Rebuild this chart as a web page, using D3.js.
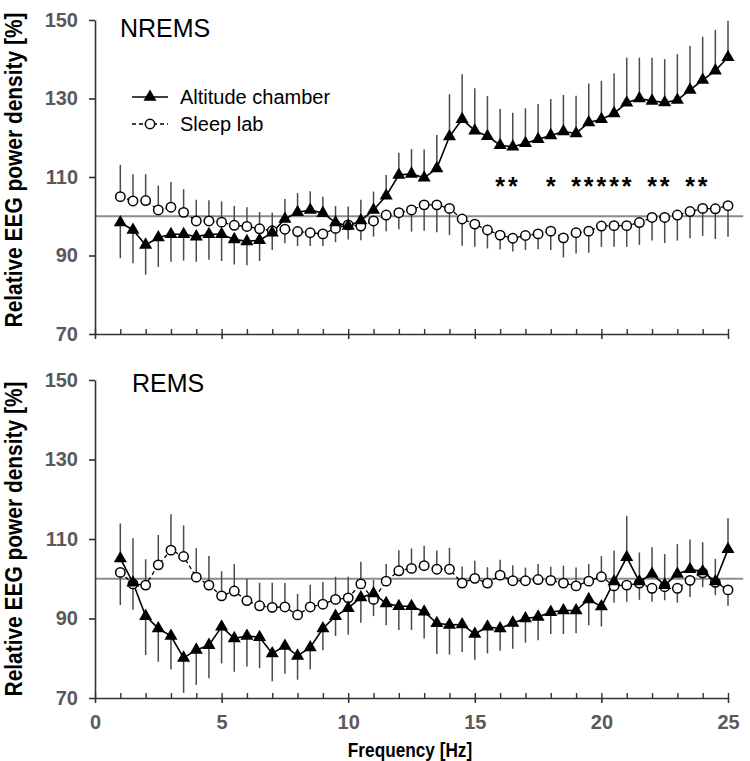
<!DOCTYPE html>
<html><head><meta charset="utf-8">
<script src="https://cdn.jsdelivr.net/npm/d3@7"></script>
<style>body{margin:0;background:#fff}svg{display:block}</style></head>
<body><svg id="c" width="750" height="761"></svg>
<script>
const freqs = [1,1.5,2,2.5,3,3.5,4,4.5,5,5.5,6,6.5,7,7.5,8,8.5,9,9.5,10,10.5,11,11.5,12,12.5,13,13.5,14,14.5,15,15.5,16,16.5,17,17.5,18,18.5,19,19.5,20,20.5,21,21.5,22,22.5,23,23.5,24,24.5,25];

const nremsAltitude = [98.4,96.5,92.7,94.6,95.4,95.4,94.8,95.4,95.4,94.1,93.6,93.9,95.8,99.3,101.0,101.6,100.8,98.4,97.5,98.9,101.6,105.2,110.5,110.8,109.8,112.2,120.3,124.7,121.8,120.4,118.1,117.7,118.6,119.6,120.6,121.6,121.1,123.9,124.7,126.2,128.9,130.0,129.4,129.0,129.6,132.2,134.7,137.1,140.5];
const nremsAltitudeSD = [9.1,8.5,7.6,7.5,7.0,6.7,6.4,6.5,6.8,6.4,6.1,5.3,4.4,5.1,4.9,4.8,4.2,4.2,3.4,5.3,4.7,5.3,5.7,6.3,7.2,8.5,10.8,11.5,10.8,10.2,9.2,8.7,8.9,9.0,9.3,9.3,9.6,9.9,9.8,10.2,11.5,10.4,11.0,11.0,11.7,11.2,11.0,10.4,9.3];
const nremsSleep = [105.0,103.9,104.0,101.6,102.3,101.0,98.8,98.8,98.5,97.7,97.4,96.8,96.3,96.7,96.1,95.8,95.5,96.9,97.8,97.5,98.8,100.3,100.9,101.6,102.9,102.9,102.0,99.3,98.0,96.5,95.2,94.4,95.1,95.5,96.2,94.5,95.8,96.2,97.5,97.6,97.6,98.4,99.7,99.7,100.3,101.2,102.0,101.9,102.7];
const nremsSleepSD = [8.1,6.8,6.7,6.2,6.4,5.9,5.4,5.3,5.3,4.9,4.9,4.3,4.6,3.6,3.7,3.4,3.1,3.5,4.7,3.6,4.0,4.1,4.2,5.5,6.6,7.0,6.8,6.8,5.8,4.7,3.7,3.4,3.7,3.9,4.8,5.0,5.3,5.5,5.3,5.4,5.4,5.7,5.9,6.5,6.5,6.8,7.0,7.7,7.9];

const remsAltitude = [105.1,99.0,90.6,87.5,85.6,80.1,82.1,83.3,87.9,85.0,85.6,85.3,81.2,83.1,80.6,82.7,87.5,90.6,92.6,95.3,96.3,93.8,93.1,93.1,91.7,88.8,88.4,88.5,86.1,87.9,87.5,88.9,90.0,90.4,91.6,92.0,92.0,94.8,93.0,99.3,105.4,99.3,101.2,98.4,101.2,102.4,101.8,99.3,107.4];
const remsAltitudeSD = [8.8,11.2,9.8,8.4,8.4,8.8,8.8,8.3,9.2,8.4,7.7,7.8,7.0,7.0,6.0,5.5,5.5,5.0,6.7,6.4,3.4,5.5,6.0,6.0,6.7,7.7,7.5,6.9,6.5,6.7,5.6,6.5,6.1,5.9,5.5,5.9,5.7,6.5,5.0,7.8,10.4,7.3,6.7,7.8,7.5,7.5,7.4,5.7,7.8];
const remsSleep = [101.6,98.7,98.4,103.5,107.2,105.6,100.4,98.4,95.7,96.9,94.5,93.2,92.8,92.9,90.9,92.9,93.6,94.8,95.2,98.7,94.8,99.4,102.0,102.6,103.3,102.4,102.4,98.9,100.1,98.9,100.9,99.5,99.5,99.8,99.6,98.9,98.2,99.4,100.5,98.2,98.4,98.9,97.6,98.0,97.6,99.6,101.5,99.1,97.2];
const remsSleepSD = [8.2,6.5,6.5,7.5,9.0,7.8,7.3,7.3,6.2,6.8,5.5,5.8,6.2,6.0,5.3,5.6,5.6,5.7,5.3,5.6,4.2,4.3,5.2,5.0,5.0,4.7,5.4,4.2,4.4,4.0,3.9,3.9,3.3,3.9,3.4,4.4,4.6,4.3,5.2,4.2,4.2,4.2,3.4,3.4,3.6,4.2,3.6,3.2,4.0];

const nremsStars = [16,16.5,18,19,19.5,20,20.5,21,22,22.5,23.5,24];
const starLevel = 109;
const refLevel = 100;
const yTicks = [70,90,110,130,150];
const xTicks = [0,5,10,15,20,25];
const xMinorTicks = [0,1,2,3,4,5,6,7,8,9,10,11,12,13,14,15,16,17,18,19,20,21,22,23,24,25];
const seriesNames = ["Altitude chamber","Sleep lab"];
const panelTitles = ["NREMS","REMS"];

const svg = d3.select("#c");
const x = d3.scaleLinear().domain([0,25]).range([95,728]);
const triSym = d3.symbol().type(d3.symbolTriangle).size(74);
const AXIS = "#333";
const TICKTXT = "#595959";
const FONT = "'Liberation Sans',Arial,sans-serif";

function drawPanel(cfg){
  const y = d3.scaleLinear().domain([70,150]).range(cfg.range);
  const g = svg.append("g");
  const alt = freqs.map((f,i)=>({f, v:cfg.alt[i], sd:cfg.altSD[i], up: cfg.alt[i] >= cfg.sleep[i]}));
  const sl = freqs.map((f,i)=>({f, v:cfg.sleep[i], sd:cfg.sleepSD[i], up: cfg.sleep[i] > cfg.alt[i]}));

  g.append("line").attr("x1", x(0)).attr("x2", x(25.6))
    .attr("y1", y(refLevel)).attr("y2", y(refLevel))
    .attr("stroke","#8c8c8c").attr("stroke-width",2);

  const eb = g.append("g").attr("stroke","#4a4a4a").attr("stroke-width",1.5);
  eb.selectAll("line.a").data(alt).join("line").attr("class","a")
    .attr("x1",d=>x(d.f)).attr("x2",d=>x(d.f))
    .attr("y1",d=>y(d.v)).attr("y2",d=>y(d.up ? d.v+d.sd : d.v-d.sd));
  eb.selectAll("line.s").data(sl).join("line").attr("class","s")
    .attr("x1",d=>x(d.f)).attr("x2",d=>x(d.f))
    .attr("y1",d=>y(d.v)).attr("y2",d=>y(d.up ? d.v+d.sd : d.v-d.sd));

  const line = d3.line().x(d=>x(d.f)).y(d=>y(d.v));
  g.append("path").datum(sl).attr("d",line).attr("fill","none")
    .attr("stroke","#000").attr("stroke-width",1.3).attr("stroke-dasharray","4,3");
  g.append("path").datum(alt).attr("d",line).attr("fill","none")
    .attr("stroke","#000").attr("stroke-width",1.6);

  g.selectAll("circle.s").data(sl).join("circle").attr("class","s")
    .attr("cx",d=>x(d.f)).attr("cy",d=>y(d.v)).attr("r",4.7)
    .attr("fill","#fff").attr("stroke","#000").attr("stroke-width",1.5);
  g.selectAll("path.t").data(alt).join("path").attr("class","t")
    .attr("transform",d=>`translate(${x(d.f)},${y(d.v)})`)
    .attr("d",triSym).attr("fill","#000");

  const ya = g.append("g").attr("transform",`translate(${x(0)},0)`)
    .call(d3.axisLeft(y).tickValues(yTicks).tickSize(6).tickSizeOuter(0).tickPadding(11));
  ya.select(".domain").attr("stroke",AXIS).attr("stroke-width",1.6);
  ya.selectAll(".tick line").attr("stroke",AXIS).attr("stroke-width",1.6);
  ya.selectAll("text").attr("fill",TICKTXT).attr("font-family",FONT)
    .attr("font-weight","bold").attr("font-size","20px");

  const xb = g.append("g").attr("transform",`translate(0,${y(70)})`)
    .call(d3.axisBottom(x).tickValues(xTicks).tickSize(5).tickSizeOuter(0).tickPadding(12)
      .tickFormat(cfg.labels ? d3.format("d") : ()=>""));
  xb.select(".domain").attr("stroke",AXIS).attr("stroke-width",1.6);
  xb.selectAll(".tick line").attr("stroke",AXIS).attr("stroke-width",1.6);
  xb.selectAll("text").attr("fill",TICKTXT).attr("font-family",FONT)
    .attr("font-weight","bold").attr("font-size","20px");
  const xt = g.append("g").attr("transform",`translate(0,${y(70)})`)
    .call(d3.axisTop(x).tickValues(xMinorTicks).tickSize(5).tickSizeOuter(0).tickFormat(()=>""));
  xt.select(".domain").remove();
  xt.selectAll(".tick line").attr("stroke",AXIS).attr("stroke-width",1.4);

  g.append("text").attr("x",cfg.titleX).attr("y",cfg.titleY).text(cfg.title)
    .attr("font-family",FONT).attr("font-size","25px").attr("fill","#000");

  g.append("text").attr("transform",`translate(22,${cfg.ytitleY}) rotate(-90) scale(0.91,1)`)
    .attr("text-anchor","middle").text("Relative EEG power density [%]")
    .attr("font-family",FONT).attr("font-weight","bold")
    .attr("font-size","23px").attr("fill","#000");

  if (cfg.stars){
    g.selectAll("text.star").data(cfg.stars).join("text").attr("class","star")
      .attr("x",d=>x(d)).attr("y",y(starLevel)).attr("dy","0.57em").attr("text-anchor","middle")
      .text("*").attr("font-family",FONT)
      .attr("font-weight","bold").attr("font-size","25px");
  }
  return y;
}

drawPanel({range:[334,20], alt:nremsAltitude, altSD:nremsAltitudeSD, sleep:nremsSleep, sleepSD:nremsSleepSD,
  title:panelTitles[0], titleX:120, titleY:37, ytitleY:170, labels:false, stars:nremsStars});
drawPanel({range:[698,380], alt:remsAltitude, altSD:remsAltitudeSD, sleep:remsSleep, sleepSD:remsSleepSD,
  title:panelTitles[1], titleX:132, titleY:392, ytitleY:539, labels:true});

svg.append("text").attr("transform","translate(410,757) scale(0.82,1)").attr("text-anchor","middle")
  .text("Frequency [Hz]").attr("font-family",FONT)
  .attr("font-weight","bold").attr("font-size","21px");

const lg = svg.append("g").attr("font-family",FONT).attr("font-size","20px");
lg.append("line").attr("x1",132).attr("x2",168).attr("y1",97).attr("y2",97).attr("stroke","#000").attr("stroke-width",1.6);
lg.append("path").attr("transform","translate(150,97)").attr("d",triSym).attr("fill","#000");
lg.append("text").attr("x",180).attr("y",104).text(seriesNames[0]);
lg.append("line").attr("x1",132).attr("x2",168).attr("y1",124).attr("y2",124).attr("stroke","#000").attr("stroke-width",1.3).attr("stroke-dasharray","4,3");
lg.append("circle").attr("cx",150).attr("cy",124).attr("r",4.7).attr("fill","#fff").attr("stroke","#000").attr("stroke-width",1.5);
lg.append("text").attr("x",180).attr("y",131).text(seriesNames[1]);
</script></body></html>
